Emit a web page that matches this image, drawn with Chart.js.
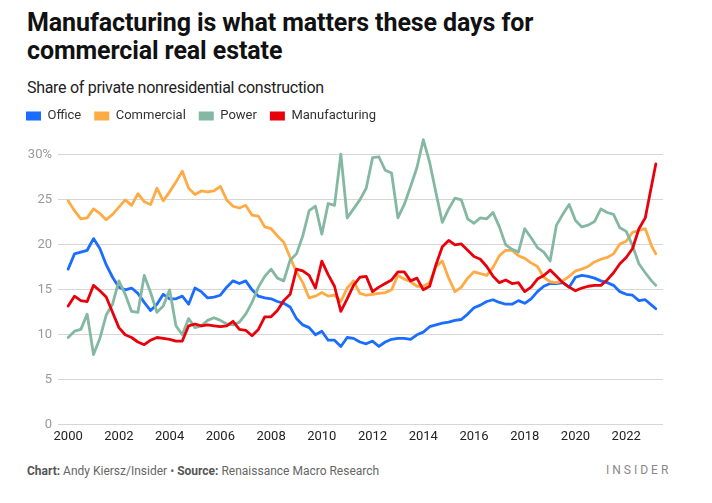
<!DOCTYPE html>
<html>
<head>
<meta charset="utf-8">
<script src="https://cdn.jsdelivr.net/npm/chart.js@4.4.1/dist/chart.umd.min.js"></script>
<style>
  html, body { margin:0; padding:0; background:#fff; }
  body { width:712px; height:503px; position:relative; overflow:hidden; font-family:Roboto, "Noto Sans", sans-serif; }
  #title { position:absolute; left:27px; top:9px; font-weight:700; font-size:25px; line-height:28px; color:#111; white-space:nowrap; letter-spacing:-0.1px; }
  #subtitle { position:absolute; left:27px; top:78px; font-size:16px; line-height:19px; color:#222; white-space:nowrap; letter-spacing:-0.3px; }
  #wrap { position:absolute; left:0; top:95px; width:712px; height:355px; }
  #footer { position:absolute; left:27px; top:464px; font-size:12px; line-height:15px; color:#666; white-space:nowrap; }
  #footer b { font-weight:700; color:#555; }
  #brand { position:absolute; left:606px; top:463px; font-size:12px; line-height:15px; letter-spacing:3px; color:#888; }
</style>
</head>
<body>
<div id="title">Manufacturing is what matters these days for<br>commercial real estate</div>
<div id="subtitle">Share of private nonresidential construction</div>
<div id="wrap"><canvas id="c" width="712" height="355"></canvas></div>
<div id="footer"><b>Chart:</b> Andy Kiersz/Insider • <b>Source:</b> Renaissance Macro Research</div>
<div id="brand">INSIDER</div>
<script>
const dates = [
  "2000-01","2000-04","2000-07","2000-10","2001-01","2001-04","2001-07","2001-10",
  "2002-01","2002-04","2002-07","2002-10","2003-01","2003-04","2003-07","2003-10",
  "2004-01","2004-04","2004-07","2004-10","2005-01","2005-04","2005-07","2005-10",
  "2006-01","2006-04","2006-07","2006-10","2007-01","2007-04","2007-07","2007-10",
  "2008-01","2008-04","2008-07","2008-10","2009-01","2009-04","2009-07","2009-10",
  "2010-01","2010-04","2010-07","2010-10","2011-01","2011-04","2011-07","2011-10",
  "2012-01","2012-04","2012-07","2012-10","2013-01","2013-04","2013-07","2013-10",
  "2014-01","2014-04","2014-07","2014-10","2015-01","2015-04","2015-07","2015-10",
  "2016-01","2016-04","2016-07","2016-10","2017-01","2017-04","2017-07","2017-10",
  "2018-01","2018-04","2018-07","2018-10","2019-01","2019-04","2019-07","2019-10",
  "2020-01","2020-04","2020-07","2020-10","2021-01","2021-04","2021-07","2021-10",
  "2022-01","2022-04","2022-07","2022-10","2023-01","2023-03"
];
const office = [
  17.3,19.0,19.2,19.4,20.7,19.6,17.8,16.4,15.3,15.0,
  15.2,14.6,13.6,12.7,13.4,14.5,14.0,14.0,14.3,13.4,
  15.2,14.8,14.1,14.2,14.4,15.3,16.0,15.7,16.0,15.0,
  14.3,14.1,14.0,13.7,13.5,13.1,11.8,11.1,10.8,10.0,
  10.4,9.4,9.4,8.7,9.7,9.6,9.2,9.0,9.3,8.7,
  9.2,9.5,9.6,9.6,9.5,10.0,10.3,10.9,11.1,11.3,
  11.4,11.6,11.7,12.3,13.0,13.3,13.7,13.9,13.6,13.4,
  13.4,13.8,13.5,14.0,14.8,15.4,15.7,15.7,15.8,15.3,
  16.4,16.6,16.5,16.3,16.0,15.8,15.5,14.8,14.5,14.4,
  13.8,13.9,13.3,12.9
];
const commercial = [
  24.9,23.8,22.9,23.0,24.0,23.5,22.8,23.4,24.2,25.0,
  24.4,25.7,24.8,24.5,26.3,24.9,25.9,27.0,28.2,26.3,
  25.6,26.0,25.9,26.0,26.5,25.0,24.3,24.1,24.4,23.3,
  23.2,22.0,21.8,21.0,20.3,18.6,17.0,15.8,14.1,14.3,
  14.7,14.3,14.4,13.7,15.2,16.0,14.6,14.4,14.5,14.6,
  14.7,15.0,16.6,16.2,15.9,15.4,15.4,15.8,17.6,18.2,
  16.3,14.8,15.3,16.3,17.0,16.8,16.6,17.5,18.8,19.4,
  19.4,18.8,18.5,18.0,17.6,16.4,15.9,15.8,16.0,16.5,
  17.1,17.3,17.6,18.1,18.4,18.6,19.0,20.1,20.4,21.4,
  21.6,21.8,19.9,19.0
];
const power = [
  9.7,10.4,10.6,12.3,7.8,9.6,12.2,13.4,16.0,14.5,
  12.6,12.5,16.6,14.7,12.5,13.2,15.0,11.0,10.0,11.8,
  10.8,11.0,11.6,11.9,11.6,11.2,11.1,11.4,12.3,13.6,
  15.3,16.5,17.3,16.3,16.0,18.3,19.0,21.0,23.8,24.3,
  21.2,24.6,24.4,30.1,23.0,24.0,25.0,26.3,29.7,29.8,
  28.3,28.0,23.0,24.5,26.5,28.6,31.7,29.2,25.8,22.5,
  24.0,25.2,25.0,22.9,22.4,23.0,22.9,23.6,22.0,20.0,
  19.5,19.2,21.8,20.8,19.7,19.2,18.2,22.2,23.4,24.5,
  22.7,22.0,22.2,22.6,24.0,23.6,23.4,21.9,21.5,19.9,
  17.9,16.9,16.0,15.5
];
const manufacturing = [
  13.2,14.3,13.8,13.7,15.5,14.9,14.2,12.5,10.8,10.0,
  9.7,9.2,8.9,9.4,9.7,9.6,9.5,9.3,9.3,11.0,
  11.2,11.0,11.1,11.0,10.9,11.0,11.5,10.6,10.5,9.9,
  10.6,12.0,12.0,12.7,13.8,14.5,17.3,17.1,16.6,15.2,
  18.2,16.7,15.4,12.6,14.0,15.5,16.4,16.5,14.8,15.3,
  15.7,16.1,17.0,17.0,16.0,16.3,15.0,15.4,17.8,19.8,
  20.5,20.0,20.1,19.4,18.7,18.4,17.6,16.5,15.8,16.1,
  15.7,15.8,14.8,15.3,16.2,16.6,17.2,16.5,15.8,15.3,
  14.9,15.2,15.4,15.5,15.5,16.1,16.9,17.9,18.6,19.6,
  21.8,23.0,26.6,29.0
];
const seriesNames = ["Office","Commercial","Power","Manufacturing"];
const seriesColors = ["#1a6dff","#ffab45","#84b8a2","#e8000b"];
const xTickYears = [2000,2002,2004,2006,2008,2010,2012,2014,2016,2018,2020,2022];
const yTickValues = [0,5,10,15,20,25,30];

function toYear(d) {
  const p = d.split("-").map(Number);
  return p[0] + (p[1] - 1) / 12;
}
const xs = dates.map(toYear);
const pts = arr => arr.map((v, i) => ({ x: xs[i], y: v }));
const allSeries = [office, commercial, power, manufacturing];

Chart.defaults.font.family = "Roboto, 'Noto Sans', sans-serif";

const datasets = allSeries.map((s, i) => ({
  label: seriesNames[i],
  data: pts(s),
  borderColor: seriesColors[i],
  backgroundColor: seriesColors[i],
  borderWidth: 2.8,
  pointRadius: 0,
  tension: 0,
  borderJoinStyle: "round",
  borderCapStyle: "round",
  order: 4 - i
}));

new Chart(document.getElementById("c"), {
  type: "line",
  data: { datasets },
  options: {
    animation: false,
    responsive: false,
    devicePixelRatio: 1,
    layout: { padding: { left: 13, right: 49, top: 1.5, bottom: 1.7 } },
    plugins: {
      tooltip: { enabled: false },
      legend: {
        position: "top",
        align: "start",
        labels: {
          boxWidth: 15,
          boxHeight: 9,
          padding: 13,
          color: "#333",
          font: { size: 13 },
          generateLabels: (chart) => {
            const items = Chart.defaults.plugins.legend.labels.generateLabels(chart);
            items.sort((a, b) => a.datasetIndex - b.datasetIndex);
            items.forEach(it => { it.lineWidth = 0; it.fillStyle = it.strokeStyle; });
            return items;
          }
        }
      }
    },
    scales: {
      x: {
        type: "linear",
        min: 1999.6,
        max: 2023.45,
        grid: { display: false, drawTicks: false },
        border: { display: false },
        ticks: {
          color: "#222",
          font: { size: 13 },
          padding: 4,
          maxRotation: 0,
          autoSkip: false,
          callback: v => String(v)
        },
        afterBuildTicks: s => { s.ticks = xTickYears.map(v => ({ value: v })); }
      },
      y: {
        min: 0,
        max: 32.5,
        grid: { color: "#d6d6d6", lineWidth: 1, drawTicks: false },
        border: { display: false },
        ticks: {
          color: "#999",
          font: { size: 13 },
          padding: 6,
          callback: v => (v === 30 ? "30%" : String(v))
        },
        afterBuildTicks: s => { s.ticks = yTickValues.map(v => ({ value: v })); },
        afterFit: s => { s.width = 45; }
      }
    }
  }
});
</script>
</body>
</html>
